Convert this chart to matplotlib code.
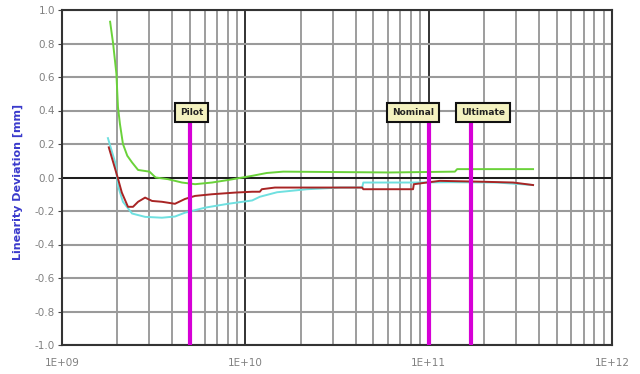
import numpy as np
import matplotlib
matplotlib.use("Agg")
import matplotlib.pyplot as plt
from matplotlib.ticker import LogLocator, FixedLocator, NullFormatter

# valeurs
green_x = [1.83e9, 1.90e9, 1.98e9, 2.02e9, 2.07e9, 2.15e9, 2.27e9, 2.41e9, 2.60e9, 3.0e9,
           3.24e9, 3.79e9, 4.51e9, 5.32e9, 6.58e9, 8.05e9, 1.09e10, 1.31e10, 1.61e10,
           6.15e10, 1.39e11, 1.43e11, 3.71e11]
green_y = [0.93, 0.80, 0.62, 0.42, 0.32, 0.20, 0.13, 0.09, 0.045, 0.035,
           0.0, -0.01, -0.03, -0.04, -0.03, -0.015, 0.01, 0.027, 0.035,
           0.03, 0.035, 0.05, 0.05]

red_x = [1.80e9, 2.00e9, 2.12e9, 2.29e9, 2.44e9, 2.60e9, 2.84e9, 3.10e9, 3.51e9, 4.13e9,
         4.69e9, 5.32e9, 6.58e9, 8.79e9, 1.09e10, 1.20e10, 1.23e10, 1.45e10, 4.34e10,
         4.4e10, 8.22e10, 8.3e10, 1.15e11, 1.91e11, 2.89e11, 3.71e11]
red_y = [0.18, 0.01, -0.09, -0.175, -0.175, -0.145, -0.12, -0.14, -0.145, -0.157,
         -0.128, -0.11, -0.10, -0.09, -0.085, -0.085, -0.07, -0.06, -0.06,
         -0.07, -0.07, -0.04, -0.02, -0.025, -0.03, -0.045]

cyan_x = [1.78e9, 1.95e9, 2.02e9, 2.15e9, 2.41e9, 2.84e9, 3.51e9, 4.13e9, 4.69e9, 6.03e9,
          8.05e9, 1.09e10, 1.20e10, 1.49e10, 2.17e10, 3.29e10, 4.34e10, 4.4e10, 8.22e10,
          1.31e11, 2.36e11, 3.71e11]
cyan_y = [0.235, 0.09, -0.05, -0.145, -0.215, -0.235, -0.24, -0.233, -0.21, -0.18,
          -0.157, -0.137, -0.115, -0.088, -0.07, -0.06, -0.06, -0.03, -0.03,
          -0.028, -0.03, -0.045]

markers = ["Pilot", "Nominal", "Ultimate"]
marker_x = [5.0e9, 1.0e11, 1.7e11]
label_x = [5.1e9, 8.2e10, 1.98e11]

fig = plt.figure(figsize=(6.4, 3.74), dpi=100)
ax = fig.add_axes([62/640, 1-345/374, 550/640, 335/374])

ax.set_xscale("log")
ax.set_xlim(1e9, 1e12)
ax.set_ylim(-1.0, 1.0)

# grille
ax.xaxis.set_major_locator(LogLocator(base=10, numticks=10))
ax.xaxis.set_minor_locator(LogLocator(base=10, subs=np.arange(2, 10), numticks=20))
ax.xaxis.set_minor_formatter(NullFormatter())
yt = np.round(np.arange(-1.0, 1.01, 0.2), 1)
ax.yaxis.set_major_locator(FixedLocator(yt))
ax.grid(which="minor", axis="x", color="#8c8c8c", lw=1.2)
ax.grid(which="major", axis="x", color="#222222", lw=1.3)
ax.grid(which="major", axis="y", color="#9a9a9a", lw=1.5)
ax.axhline(0, color="#111111", lw=1.3, zorder=2)
ax.set_axisbelow(True)

for s in ax.spines.values():
    s.set_color("#333333")
    s.set_linewidth(1.5)

ax.plot(green_x, green_y, color="#6ad23a", lw=1.4, zorder=3)
ax.plot(cyan_x, cyan_y, color="#6fe0e0", lw=1.4, zorder=3)
ax.plot(red_x, red_y, color="#a82424", lw=1.4, zorder=4)

for name, mx, lx in zip(markers, marker_x, label_x):
    ax.plot([mx, mx], [-1.0, 0.33], color="#d600d6", lw=3, zorder=5, solid_capstyle="butt")
    ax.text(lx, 0.39, name, ha="center", va="center", fontsize=6.5, fontweight="bold",
            color="#222222", zorder=6,
            bbox=dict(boxstyle="square,pad=0.55", fc="#f4f2c0", ec="#111111", lw=1.5))

ax.tick_params(axis="y", which="major", length=3, color="#444444", labelsize=7.5,
               labelcolor="#808080", pad=2)
ax.tick_params(axis="x", which="both", length=0, labelsize=7.5, labelcolor="#808080", pad=9)
ax.set_yticklabels(["%.1f" % (0.0 if v == 0 else v) for v in yt])
ax.set_xticks([1e9, 1e10, 1e11, 1e12])
ax.set_xticklabels(["1E+09", "1E+10", "1E+11", "1E+12"])

fig.text(18/640, 1-182/374, "Linearity Deviation [mm]", rotation=90, ha="center", va="center",
         fontsize=8, fontweight="bold", color="#3a3acc")

fig.savefig("out.png", dpi=100)
